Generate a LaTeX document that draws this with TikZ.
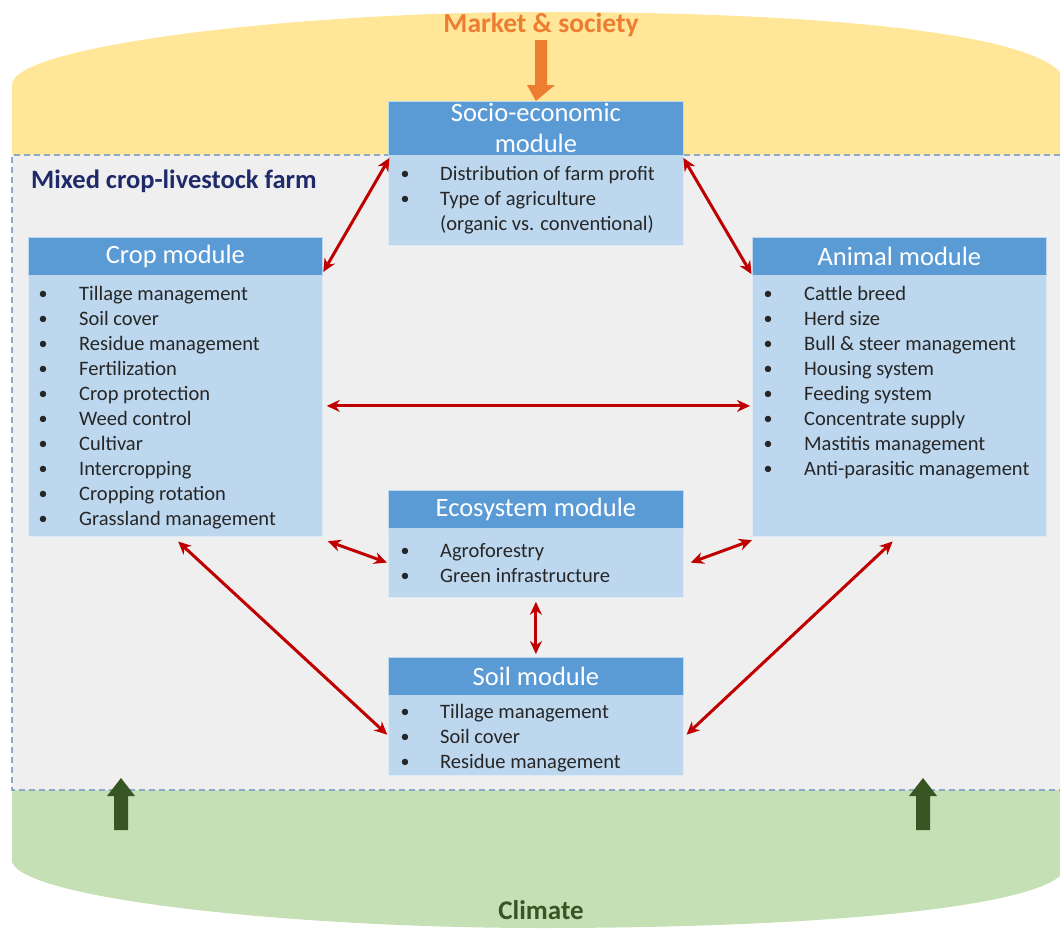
\documentclass[tikz,border=0pt]{standalone}
\usepackage{fontspec}
\setmainfont{Carlito}
\usetikzlibrary{arrows.meta,calc}
\definecolor{hdrblue}{HTML}{5B9BD5}
\definecolor{bodyblue}{HTML}{BDD7EE}
\definecolor{ylw}{HTML}{FFE699}
\definecolor{grn}{HTML}{C5E0B4}
\definecolor{farmgray}{HTML}{EFEFEF}
\definecolor{dashc}{HTML}{8EA9C8}
\definecolor{orng}{HTML}{ED7D31}
\definecolor{dkgrn}{HTML}{375623}
\definecolor{arrred}{HTML}{C00000}
\definecolor{navy}{HTML}{1F2A6B}
\definecolor{txt}{HTML}{262626}
\tikzset{
  hdr/.style={draw=white!60!hdrblue, line width=0.8pt, fill=hdrblue, text=white, anchor=north west, inner sep=0pt, font=\fontsize{26.5}{31}\selectfont, align=center},
  bodybox/.style={draw=white!50!bodyblue, line width=0.8pt, fill=bodyblue, anchor=north west, inner sep=0pt},
  itm/.style={anchor=west, inner sep=0pt, text=txt, font=\fontsize{20.5}{25}\selectfont, text height=14pt, text depth=4pt},
  bul/.style={anchor=center, inner sep=0pt, text=txt, font=\fontsize{18}{20}\selectfont},
  link/.style={arrred, line width=3pt, {Stealth[length=13pt,width=12pt]}-{Stealth[length=13pt,width=12pt]}, shorten <=1pt, shorten >=1pt},
}
\begin{document}
\begin{tikzpicture}[x=1pt,y=-1pt]
\useasboundingbox (0,0) rectangle (1060,930);
% yellow market zone
\fill[ylw] (12,155) -- (12,85) .. controls (12,45) and (300,12) .. (541,12) .. controls (800,12) and (1020,30) .. (1060,72) -- (1060,155) -- cycle;
% green climate zone
\fill[grn] (12,790) -- (12,862) .. controls (25,900) and (300,928) .. (541,928) .. controls (800,928) and (1020,910) .. (1060,876) -- (1060,790) -- cycle;
% farm area
\fill[farmgray] (12,155) rectangle (1060,790);
\draw[dashc, line width=1.6pt, dash pattern=on 6pt off 4pt] (1060,155) -- (12,155) -- (12,790) -- (1060,790);
% labels
\node[text=orng, font=\bfseries\fontsize{27.5}{31}\selectfont, inner sep=0pt] (market) at (541,25) {Market \& society};
\node[text=dkgrn, font=\bfseries\fontsize{27}{31}\selectfont, inner sep=0pt] (climate) at (541,910) {Climate};
\node[text=navy, font=\bfseries\fontsize{26.5}{30}\selectfont, inner sep=0pt, anchor=west] (farm) at (31,181) {Mixed crop-livestock farm};

% Socio-economic module
\node[bodybox, minimum width=295pt, minimum height=90pt] (socbody) at (388,155) {};
\node[hdr, minimum width=295pt, minimum height=54pt, font=\fontsize{26.5}{32}\selectfont] (sochead) at (388,101) {Socio-economic\\[-1pt]module};
\foreach [count=\i] \t in {Distribution of farm profit, Type of agriculture, (organic vs. conventional)} {
  \node[itm] (soci\i) at (440,175+25*\i-25) {\t};
}
\node[bul] (socb1) at (405,175) {•};
\node[bul] (socb2) at (405,200) {•};

% Crop module
\node[bodybox, minimum width=294pt, minimum height=261pt] (cropbody) at (28,275) {};
\node[hdr, minimum width=294pt, minimum height=38pt] (crophead) at (28,237) {Crop module};
\foreach [count=\i] \t in {Tillage management, Soil cover, Residue management, Fertilization, Crop protection, Weed control, Cultivar, Intercropping, Cropping rotation, Grassland management} {
  \node[itm] (cropi\i) at (79,295+25*\i-25) {\t};
  \node[bul] (cropb\i) at (43,295+25*\i-25) {•};
}

% Animal module
\node[bodybox, minimum width=294pt, minimum height=261pt] (animbody) at (752,275) {};
\node[hdr, minimum width=294pt, minimum height=38pt] (animhead) at (752,237) {Animal module};
\foreach [count=\i] \t in {Cattle breed, Herd size, Bull \& steer management, Housing system, Feeding system, Concentrate supply, Mastitis management, Anti-parasitic management} {
  \node[itm] (animi\i) at (804,295+25*\i-25) {\t};
  \node[bul] (animb\i) at (768,295+25*\i-25) {•};
}

% Ecosystem module
\node[bodybox, minimum width=295pt, minimum height=69pt] (ecobody) at (388,528) {};
\node[hdr, minimum width=295pt, minimum height=38pt] (ecohead) at (388,490) {Ecosystem module};
\foreach [count=\i] \t in {Agroforestry, Green infrastructure} {
  \node[itm] (ecoi\i) at (440,552+25*\i-25) {\t};
  \node[bul] (ecob\i) at (405,552+25*\i-25) {•};
}

% Soil module
\node[bodybox, minimum width=295pt, minimum height=80pt] (soilbody) at (388,695) {};
\node[hdr, minimum width=295pt, minimum height=38pt] (soilhead) at (388,657) {Soil module};
\foreach [count=\i] \t in {Tillage management, Soil cover, Residue management} {
  \node[itm] (soili\i) at (440,713+25*\i-25) {\t};
  \node[bul] (soilb\i) at (405,713+25*\i-25) {•};
}

% red links
\draw[link] ($(crophead.south east)+(0,-3)$) -- ($(socbody.north west)+(2,2)$);
\draw[link] ($(socbody.north east)+(-1,2)$) -- ($(animbody.north west)+(0,0)$);
\draw[link] ($(cropbody.east)+(3,0)$) -- ($(animbody.west)+(-1,0)$);
\draw[link] ($(cropbody.south east)+(4,4)$) -- ($(ecobody.west)+(0,0)$);
\draw[link] ($(ecobody.east)+(6,0)$) -- ($(animbody.south west)+(1,3)$);
\draw[link] ($(ecobody.south)+(0,3)$) -- ($(soilhead.north)+(0,-2)$);
\draw[link] ($(cropbody.south)+(2,4)$) -- ($(soilbody.west)+(0,0)$);
\draw[link] ($(animbody.south)+(-6,4)$) -- ($(soilbody.east)+(2,0)$);

% orange input arrow
\coordinate (otop) at (541,40);
\fill[orng] ($(otop)+(-6,0)$) -- ($(otop)+(6,0)$) -- ($(otop)+(6,45)$) -- ($(otop)+(14,45)$) -- (sochead.north) -- ($(otop)+(-14,45)$) -- ($(otop)+(-6,45)$) -- cycle;
% green climate arrows
\coordinate (g1) at (121,830);
\coordinate (g2) at (923,830);
\foreach \g in {g1,g2} {
  \fill[dkgrn] ($(\g)+(-7,0)$) -- ($(\g)+(7,0)$) -- ($(\g)+(7,-34)$) -- ($(\g)+(14,-34)$) -- ($(\g)+(0,-52)$) -- ($(\g)+(-14,-34)$) -- ($(\g)+(-7,-34)$) -- cycle;
}
\end{tikzpicture}
\end{document}
